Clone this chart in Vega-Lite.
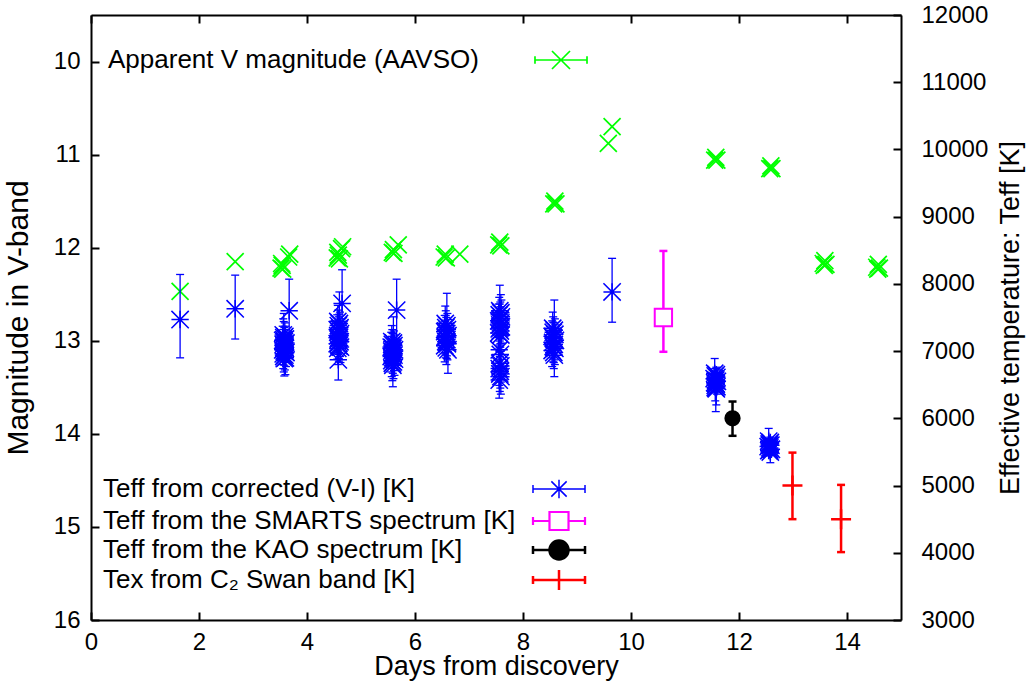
{
  "$schema": "https://vega.github.io/schema/vega-lite/v6.json",
  "width": 810,
  "height": 605,
  "autosize": "none",
  "padding": {"left": 91, "top": 15, "right": 126, "bottom": 63},
  "background": "white",
  "config": {
    "view": {"stroke": null},
    "font": "Liberation Sans",
    "axis": {
      "grid": false, "domainColor": "black", "domainWidth": 2, "tickColor": "black", "tickWidth": 2, "tickSize": -8,
      "labelFont": "Liberation Sans", "labelFontSize": 24, "labelColor": "black",
      "titleFont": "Liberation Sans", "titleFontSize": 27, "titleFontWeight": "normal", "titleColor": "black",
      "labelFlush": false, "labelOverlap": false
    },
    "legend": {"padding": 0, "labelFont": "Liberation Sans", "labelFontSize": 26, "labelColor": "black", "labelLimit": 0, "symbolOpacity": 1}
  },
  "datasets": {
    "aavso": [
      {"day":1.65,"mag":12.47},{"day":2.67,"mag":12.15},
      {"day":3.52,"mag":12.22},{"day":3.54,"mag":12.19},{"day":3.55,"mag":12.23},{"day":3.53,"mag":12.17},{"day":3.66,"mag":12.10},{"day":3.68,"mag":12.07},
      {"day":4.56,"mag":12.11},{"day":4.58,"mag":12.08},{"day":4.60,"mag":12.12},{"day":4.57,"mag":12.05},{"day":4.64,"mag":12.01},{"day":4.66,"mag":11.99},
      {"day":5.58,"mag":12.05},{"day":5.60,"mag":12.02},{"day":5.61,"mag":12.06},{"day":5.69,"mag":11.97},
      {"day":6.54,"mag":12.10},{"day":6.56,"mag":12.07},{"day":6.58,"mag":12.11},{"day":6.83,"mag":12.07},
      {"day":7.55,"mag":11.97},{"day":7.57,"mag":11.94},{"day":7.59,"mag":11.98},
      {"day":8.57,"mag":11.53},{"day":8.59,"mag":11.50},{"day":8.61,"mag":11.53},
      {"day":9.58,"mag":10.88},{"day":9.65,"mag":10.70},
      {"day":11.55,"mag":11.06},{"day":11.57,"mag":11.03},{"day":11.59,"mag":11.06},
      {"day":12.57,"mag":11.15},{"day":12.59,"mag":11.12},{"day":12.61,"mag":11.15},
      {"day":13.56,"mag":12.17},{"day":13.59,"mag":12.14},{"day":13.61,"mag":12.18},{"day":13.58,"mag":12.19},
      {"day":14.55,"mag":12.21},{"day":14.58,"mag":12.18},{"day":14.60,"mag":12.22},{"day":14.57,"mag":12.23}
    ],
    "vi": [
      {"day":1.65,"T":7470,"lo":6900,"hi":8140},
      {"day":2.67,"T":7630,"lo":7180,"hi":8130},
      {"day":3.67,"T":7600,"lo":7130,"hi":8070},
      {"day":4.65,"T":7710,"lo":7210,"hi":8210},
      {"day":4.58,"T":6870,"lo":6570,"hi":7170},
      {"day":5.66,"T":7610,"lo":7150,"hi":8070},
      {"day":9.65,"T":7880,"lo":7430,"hi":8380},
      {"day":3.56,"T":7240,"lo":7000,"hi":7480},
      {"day":3.59,"T":7220,"lo":7020,"hi":7420},
      {"day":3.57,"T":7200,"lo":6960,"hi":7440},
      {"day":3.60,"T":7180,"lo":6990,"hi":7370},
      {"day":3.55,"T":7160,"lo":6950,"hi":7370},
      {"day":3.58,"T":7140,"lo":6930,"hi":7350},
      {"day":3.61,"T":7120,"lo":6920,"hi":7320},
      {"day":3.56,"T":7100,"lo":6880,"hi":7320},
      {"day":3.59,"T":7080,"lo":6880,"hi":7280},
      {"day":3.57,"T":7060,"lo":6850,"hi":7270},
      {"day":3.60,"T":7040,"lo":6830,"hi":7250},
      {"day":3.55,"T":7020,"lo":6800,"hi":7240},
      {"day":3.58,"T":7000,"lo":6790,"hi":7210},
      {"day":3.61,"T":6980,"lo":6770,"hi":7190},
      {"day":3.56,"T":6960,"lo":6740,"hi":7180},
      {"day":3.59,"T":6940,"lo":6720,"hi":7160},
      {"day":3.57,"T":6920,"lo":6690,"hi":7150},
      {"day":3.60,"T":6900,"lo":6650,"hi":7150},
      {"day":3.58,"T":6890,"lo":6630,"hi":7150},
      {"day":3.57,"T":7170,"lo":6870,"hi":7560},
      {"day":3.59,"T":7050,"lo":6860,"hi":7240},
      {"day":4.57,"T":7440,"lo":7200,"hi":7680},
      {"day":4.60,"T":7410,"lo":7150,"hi":7880},
      {"day":4.58,"T":7380,"lo":7150,"hi":7610},
      {"day":4.61,"T":7350,"lo":7120,"hi":7580},
      {"day":4.56,"T":7320,"lo":7100,"hi":7540},
      {"day":4.59,"T":7290,"lo":7070,"hi":7510},
      {"day":4.62,"T":7260,"lo":7040,"hi":7480},
      {"day":4.57,"T":7230,"lo":7010,"hi":7450},
      {"day":4.60,"T":7200,"lo":6980,"hi":7420},
      {"day":4.58,"T":7170,"lo":6950,"hi":7390},
      {"day":4.61,"T":7140,"lo":6920,"hi":7360},
      {"day":4.56,"T":7110,"lo":6880,"hi":7340},
      {"day":4.59,"T":7080,"lo":6850,"hi":7310},
      {"day":4.62,"T":7060,"lo":6830,"hi":7290},
      {"day":4.57,"T":7040,"lo":6800,"hi":7280},
      {"day":4.60,"T":7330,"lo":7110,"hi":7550},
      {"day":4.58,"T":7190,"lo":6960,"hi":7420},
      {"day":4.59,"T":7120,"lo":6890,"hi":7350},
      {"day":5.57,"T":7140,"lo":6900,"hi":7380},
      {"day":5.60,"T":7120,"lo":6880,"hi":7510},
      {"day":5.58,"T":7100,"lo":6880,"hi":7320},
      {"day":5.61,"T":7080,"lo":6860,"hi":7300},
      {"day":5.56,"T":7060,"lo":6840,"hi":7280},
      {"day":5.59,"T":7040,"lo":6820,"hi":7260},
      {"day":5.62,"T":7020,"lo":6800,"hi":7240},
      {"day":5.57,"T":7000,"lo":6780,"hi":7220},
      {"day":5.60,"T":6980,"lo":6760,"hi":7200},
      {"day":5.58,"T":6960,"lo":6740,"hi":7180},
      {"day":5.61,"T":6940,"lo":6710,"hi":7170},
      {"day":5.56,"T":6920,"lo":6690,"hi":7150},
      {"day":5.59,"T":6900,"lo":6670,"hi":7130},
      {"day":5.62,"T":6880,"lo":6640,"hi":7120},
      {"day":5.57,"T":6860,"lo":6620,"hi":7100},
      {"day":5.60,"T":6840,"lo":6590,"hi":7090},
      {"day":5.58,"T":6820,"lo":6560,"hi":7080},
      {"day":5.59,"T":6790,"lo":6470,"hi":7110},
      {"day":5.58,"T":7050,"lo":6830,"hi":7270},
      {"day":6.56,"T":7410,"lo":7150,"hi":7670},
      {"day":6.59,"T":7380,"lo":7100,"hi":7860},
      {"day":6.57,"T":7350,"lo":7100,"hi":7600},
      {"day":6.60,"T":7320,"lo":7080,"hi":7560},
      {"day":6.55,"T":7290,"lo":7050,"hi":7530},
      {"day":6.58,"T":7260,"lo":7020,"hi":7500},
      {"day":6.61,"T":7230,"lo":6990,"hi":7470},
      {"day":6.56,"T":7200,"lo":6960,"hi":7440},
      {"day":6.59,"T":7170,"lo":6930,"hi":7410},
      {"day":6.57,"T":7140,"lo":6900,"hi":7380},
      {"day":6.60,"T":7110,"lo":6870,"hi":7350},
      {"day":6.55,"T":7080,"lo":6840,"hi":7320},
      {"day":6.58,"T":7050,"lo":6800,"hi":7300},
      {"day":6.61,"T":7020,"lo":6670,"hi":7280},
      {"day":6.57,"T":7300,"lo":7070,"hi":7530},
      {"day":6.59,"T":7130,"lo":6890,"hi":7370},
      {"day":6.56,"T":7220,"lo":6980,"hi":7460},
      {"day":7.57,"T":7600,"lo":7300,"hi":7980},
      {"day":7.59,"T":7570,"lo":7300,"hi":7840},
      {"day":7.56,"T":7540,"lo":7280,"hi":7800},
      {"day":7.60,"T":7510,"lo":7260,"hi":7760},
      {"day":7.58,"T":7480,"lo":7230,"hi":7730},
      {"day":7.55,"T":7450,"lo":7200,"hi":7700},
      {"day":7.59,"T":7420,"lo":7180,"hi":7660},
      {"day":7.57,"T":7390,"lo":7150,"hi":7630},
      {"day":7.60,"T":7360,"lo":7120,"hi":7600},
      {"day":7.56,"T":7330,"lo":7090,"hi":7570},
      {"day":7.58,"T":7300,"lo":7060,"hi":7540},
      {"day":7.55,"T":7270,"lo":7030,"hi":7510},
      {"day":7.59,"T":7240,"lo":7000,"hi":7480},
      {"day":7.57,"T":7460,"lo":7220,"hi":7700},
      {"day":7.58,"T":7350,"lo":7110,"hi":7590},
      {"day":7.57,"T":6820,"lo":6580,"hi":7060},
      {"day":7.59,"T":6780,"lo":6540,"hi":7020},
      {"day":7.56,"T":6740,"lo":6490,"hi":6990},
      {"day":7.58,"T":6700,"lo":6450,"hi":6950},
      {"day":7.57,"T":6660,"lo":6400,"hi":6920},
      {"day":7.59,"T":6620,"lo":6360,"hi":6880},
      {"day":7.56,"T":6570,"lo":6300,"hi":6840},
      {"day":7.58,"T":6950,"lo":6710,"hi":7190},
      {"day":7.56,"T":7020,"lo":6780,"hi":7260},
      {"day":8.55,"T":7340,"lo":7100,"hi":7580},
      {"day":8.58,"T":7310,"lo":7060,"hi":7760},
      {"day":8.56,"T":7280,"lo":7050,"hi":7510},
      {"day":8.59,"T":7250,"lo":7020,"hi":7480},
      {"day":8.54,"T":7220,"lo":6990,"hi":7450},
      {"day":8.57,"T":7190,"lo":6960,"hi":7420},
      {"day":8.60,"T":7160,"lo":6930,"hi":7390},
      {"day":8.55,"T":7130,"lo":6900,"hi":7360},
      {"day":8.58,"T":7100,"lo":6870,"hi":7330},
      {"day":8.56,"T":7070,"lo":6840,"hi":7300},
      {"day":8.59,"T":7040,"lo":6800,"hi":7280},
      {"day":8.54,"T":7010,"lo":6770,"hi":7250},
      {"day":8.57,"T":6980,"lo":6740,"hi":7220},
      {"day":8.58,"T":6940,"lo":6620,"hi":7200},
      {"day":8.56,"T":7200,"lo":6970,"hi":7430},
      {"day":8.57,"T":7060,"lo":6830,"hi":7290},
      {"day":11.55,"T":6670,"lo":6560,"hi":6890},
      {"day":11.58,"T":6650,"lo":6540,"hi":6760},
      {"day":11.56,"T":6630,"lo":6520,"hi":6740},
      {"day":11.59,"T":6610,"lo":6500,"hi":6720},
      {"day":11.54,"T":6590,"lo":6480,"hi":6700},
      {"day":11.57,"T":6570,"lo":6460,"hi":6680},
      {"day":11.60,"T":6550,"lo":6440,"hi":6660},
      {"day":11.55,"T":6530,"lo":6420,"hi":6640},
      {"day":11.58,"T":6510,"lo":6400,"hi":6620},
      {"day":11.56,"T":6490,"lo":6380,"hi":6600},
      {"day":11.59,"T":6470,"lo":6360,"hi":6580},
      {"day":11.57,"T":6450,"lo":6100,"hi":6560},
      {"day":11.58,"T":6440,"lo":6200,"hi":6680},
      {"day":11.56,"T":6460,"lo":6260,"hi":6660},
      {"day":11.57,"T":6520,"lo":6410,"hi":6630},
      {"day":12.55,"T":5660,"lo":5580,"hi":5850},
      {"day":12.58,"T":5640,"lo":5560,"hi":5720},
      {"day":12.56,"T":5620,"lo":5540,"hi":5700},
      {"day":12.59,"T":5600,"lo":5520,"hi":5680},
      {"day":12.54,"T":5580,"lo":5500,"hi":5660},
      {"day":12.57,"T":5560,"lo":5480,"hi":5640},
      {"day":12.60,"T":5540,"lo":5460,"hi":5620},
      {"day":12.55,"T":5520,"lo":5440,"hi":5600},
      {"day":12.58,"T":5500,"lo":5340,"hi":5580},
      {"day":12.56,"T":5600,"lo":5520,"hi":5680},
      {"day":12.57,"T":5530,"lo":5450,"hi":5610}
    ],
    "smarts": [{"day":10.6,"T":7500,"lo":6990,"hi":8490}],
    "kao": [{"day":11.88,"T":6000,"lo":5740,"hi":6250}],
    "c2": [{"day":12.99,"T":5000,"lo":4500,"hi":5490},{"day":13.89,"T":4500,"lo":4010,"hi":5010}]
  },
  "layer": [
    {
      "data": {"name": "aavso"},
      "mark": {"type": "point", "shape": "M-1,-1L1,1M-1,1L1,-1", "filled": false, "size": 289, "strokeWidth": 1.7, "opacity": 1},
      "encoding": {
        "x": {"field": "day", "type": "quantitative", "scale": {"domain": [0, 15], "nice": false, "zero": false},
              "axis": {"orient": "bottom", "values": [0,2,4,6,8,10,12,14], "format": "d", "title": "Days from discovery", "labelPadding": 18, "titlePadding": -1}},
        "y": {"field": "mag", "type": "quantitative", "scale": {"domain": [9.5, 16], "reverse": true, "nice": false, "zero": false},
              "axis": {"orient": "left", "values": [10,11,12,13,14,15,16], "format": "d", "title": "Magnitude in V-band", "titleFontSize": 30, "labelPadding": 19, "titlePadding": 20}},
        "stroke": {"datum": "Apparent V magnitude (AAVSO)", "type": "nominal", "scale": {"range": ["#00ff00"]},
          "legend": {"orient": "none", "legendX": -3, "legendY": 32, "title": null, "symbolSize": 289, "symbolOffset": 460, "labelOffset": -466,
            "symbolStrokeWidth": 1.7, "symbolFillColor": "transparent", "symbolStrokeColor": "#00ff00",
            "symbolType": "M-3.06,0L3.06,0M-3.06,-0.43L-3.06,0.43M3.06,-0.43L3.06,0.43M-1.06,-1.06L1.06,1.06M-1.06,1.06L1.06,-1.06"}}
      }
    },
    {
      "data": {"name": "vi"},
      "mark": {"type": "rule", "color": "#0000ff", "strokeWidth": 1.3},
      "encoding": {
        "x": {"field": "day", "type": "quantitative", "scale": {"domain": [0, 15], "nice": false, "zero": false},
              "axis": {"orient": "top", "values": [0,2,4,6,8,10,12,14], "labels": false, "title": null}},
        "y": {"field": "lo", "type": "quantitative", "scale": {"domain": [3000, 12000], "nice": false, "zero": false},
              "axis": {"orient": "right", "values": [3000,4000,5000,6000,7000,8000,9000,10000,11000,12000], "format": "d",
                       "title": "Effective temperature: Teff [K]", "labelPadding": 28, "titleAngle": 270, "titleBaseline": "top", "titlePadding": 10}},
        "y2": {"field": "hi"}
      }
    },
    {
      "data": {"name": "vi"},
      "transform": [{"fold": ["lo", "hi"], "as": ["end", "val"]}],
      "mark": {"type": "tick", "orient": "horizontal", "size": 8, "thickness": 1.3, "color": "#0000ff", "opacity": 1},
      "encoding": {
        "x": {"field": "day", "type": "quantitative", "scale": {"domain": [0, 15], "nice": false, "zero": false}, "axis": null},
        "y": {"field": "val", "type": "quantitative", "scale": {"domain": [3000, 12000], "nice": false, "zero": false}, "axis": null}
      }
    },
    {
      "data": {"name": "vi"},
      "mark": {"type": "point", "shape": "M-1,0L1,0M0,-1L0,1M-1,-1L1,1M-1,1L1,-1", "filled": false, "size": 300, "strokeWidth": 1.5, "opacity": 1},
      "encoding": {
        "x": {"field": "day", "type": "quantitative", "scale": {"domain": [0, 15], "nice": false, "zero": false}, "axis": null},
        "y": {"field": "T", "type": "quantitative", "scale": {"domain": [3000, 12000], "nice": false, "zero": false}, "axis": null},
        "color": {"datum": "Teff from corrected (V-I) [K]", "type": "nominal", "scale": {"range": ["#0000ff"]},
          "legend": {"orient": "none", "legendX": -7, "legendY": 461, "title": null, "symbolSize": 289, "symbolOffset": 462, "labelOffset": -469,
            "symbolStrokeWidth": 1.5, "symbolFillColor": "transparent", "symbolStrokeColor": "#0000ff",
            "symbolType": "M-3.06,0L3.06,0M-3.06,-0.47L-3.06,0.47M3.06,-0.47L3.06,0.47M-1,0L1,0M0,-1.1L0,1.1M-0.9,-0.9L0.9,0.9M-0.9,0.9L0.9,-0.9"}}
      }
    },
    {
      "data": {"name": "smarts"},
      "mark": {"type": "rule", "color": "#ff00ff", "strokeWidth": 2.5},
      "encoding": {
        "x": {"field": "day", "type": "quantitative", "scale": {"domain": [0, 15], "nice": false, "zero": false}, "axis": null},
        "y": {"field": "lo", "type": "quantitative", "scale": {"domain": [3000, 12000], "nice": false, "zero": false}, "axis": null},
        "y2": {"field": "hi"}
      }
    },
    {
      "data": {"name": "smarts"},
      "transform": [{"fold": ["lo", "hi"], "as": ["end", "val"]}],
      "mark": {"type": "tick", "orient": "horizontal", "size": 8, "thickness": 2.5, "color": "#ff00ff", "opacity": 1},
      "encoding": {
        "x": {"field": "day", "type": "quantitative", "scale": {"domain": [0, 15], "nice": false, "zero": false}, "axis": null},
        "y": {"field": "val", "type": "quantitative", "scale": {"domain": [3000, 12000], "nice": false, "zero": false}, "axis": null}
      }
    },
    {
      "data": {"name": "smarts"},
      "mark": {"type": "point", "shape": "square", "filled": false, "stroke": "#ff00ff", "size": 300, "strokeWidth": 2, "opacity": 1},
      "encoding": {
        "x": {"field": "day", "type": "quantitative", "scale": {"domain": [0, 15], "nice": false, "zero": false}, "axis": null},
        "y": {"field": "T", "type": "quantitative", "scale": {"domain": [3000, 12000], "nice": false, "zero": false}, "axis": null},
        "fill": {"datum": "Teff from the SMARTS spectrum [K]", "type": "nominal", "scale": {"range": ["#ffffff"]},
          "legend": {"orient": "none", "legendX": -7, "legendY": 493, "title": null, "symbolSize": 289, "symbolOffset": 462, "labelOffset": -469,
            "symbolStrokeWidth": 2.2, "symbolFillColor": "#ffffff", "symbolStrokeColor": "#ff00ff",
            "symbolType": "M-3.06,0L-1.12,0M1.12,0L3.06,0M-3.06,-0.47L-3.06,0.47M3.06,-0.47L3.06,0.47M-1.12,-1.06L1.12,-1.06L1.12,1.06L-1.12,1.06Z"}}
      }
    },
    {
      "data": {"name": "kao"},
      "mark": {"type": "rule", "color": "#000000", "strokeWidth": 2.5},
      "encoding": {
        "x": {"field": "day", "type": "quantitative", "scale": {"domain": [0, 15], "nice": false, "zero": false}, "axis": null},
        "y": {"field": "lo", "type": "quantitative", "scale": {"domain": [3000, 12000], "nice": false, "zero": false}, "axis": null},
        "y2": {"field": "hi"}
      }
    },
    {
      "data": {"name": "kao"},
      "transform": [{"fold": ["lo", "hi"], "as": ["end", "val"]}],
      "mark": {"type": "tick", "orient": "horizontal", "size": 8, "thickness": 2.5, "color": "#000000", "opacity": 1},
      "encoding": {
        "x": {"field": "day", "type": "quantitative", "scale": {"domain": [0, 15], "nice": false, "zero": false}, "axis": null},
        "y": {"field": "val", "type": "quantitative", "scale": {"domain": [3000, 12000], "nice": false, "zero": false}, "axis": null}
      }
    },
    {
      "data": {"name": "kao"},
      "mark": {"type": "point", "shape": "circle", "filled": false, "stroke": "#000000", "size": 190, "strokeWidth": 2.5, "opacity": 1},
      "encoding": {
        "x": {"field": "day", "type": "quantitative", "scale": {"domain": [0, 15], "nice": false, "zero": false}, "axis": null},
        "y": {"field": "T", "type": "quantitative", "scale": {"domain": [3000, 12000], "nice": false, "zero": false}, "axis": null},
        "fill": {"datum": "Teff from the KAO spectrum [K]", "type": "nominal", "scale": {"range": ["#000000"]},
          "legend": {"orient": "none", "legendX": -7, "legendY": 522, "title": null, "symbolSize": 289, "symbolOffset": 462, "labelOffset": -469,
            "symbolStrokeWidth": 2.5, "symbolFillColor": "#000000", "symbolStrokeColor": "#000000",
            "symbolType": "M-3.06,0L3.06,0M-3.06,-0.47L-3.06,0.47M3.06,-0.47L3.06,0.47M-1.12,0A1.12,1.12,0,1,1,1.12,0A1.12,1.12,0,1,1,-1.12,0Z"}}
      }
    },
    {
      "data": {"name": "c2"},
      "mark": {"type": "rule", "color": "#ff0000", "strokeWidth": 2.5},
      "encoding": {
        "x": {"field": "day", "type": "quantitative", "scale": {"domain": [0, 15], "nice": false, "zero": false}, "axis": null},
        "y": {"field": "lo", "type": "quantitative", "scale": {"domain": [3000, 12000], "nice": false, "zero": false}, "axis": null},
        "y2": {"field": "hi"}
      }
    },
    {
      "data": {"name": "c2"},
      "transform": [{"fold": ["lo", "hi"], "as": ["end", "val"]}],
      "mark": {"type": "tick", "orient": "horizontal", "size": 8, "thickness": 2.5, "color": "#ff0000", "opacity": 1},
      "encoding": {
        "x": {"field": "day", "type": "quantitative", "scale": {"domain": [0, 15], "nice": false, "zero": false}, "axis": null},
        "y": {"field": "val", "type": "quantitative", "scale": {"domain": [3000, 12000], "nice": false, "zero": false}, "axis": null}
      }
    },
    {
      "data": {"name": "c2"},
      "mark": {"type": "point", "shape": "M-1,0L1,0M0,-1L0,1", "filled": false, "size": 400, "strokeWidth": 2.5, "opacity": 1},
      "encoding": {
        "x": {"field": "day", "type": "quantitative", "scale": {"domain": [0, 15], "nice": false, "zero": false}, "axis": null},
        "y": {"field": "T", "type": "quantitative", "scale": {"domain": [3000, 12000], "nice": false, "zero": false}, "axis": null},
        "color": {"datum": "Tex from C₂ Swan band [K]", "type": "nominal", "scale": {"range": ["#ff0000"]},
          "legend": {"orient": "none", "legendX": -7, "legendY": 552, "title": null, "symbolSize": 289, "symbolOffset": 462, "labelOffset": -469,
            "symbolStrokeWidth": 2.5, "symbolFillColor": "transparent", "symbolStrokeColor": "#ff0000",
            "symbolType": "M-3.06,0L3.06,0M-3.06,-0.47L-3.06,0.47M3.06,-0.47L3.06,0.47M0,-1.18L0,1.18"}}
      }
    }
  ],
  "resolve": {"scale": {"y": "independent", "color": "independent", "fill": "independent"}, "axis": {"x": "independent", "y": "independent"}}
}
